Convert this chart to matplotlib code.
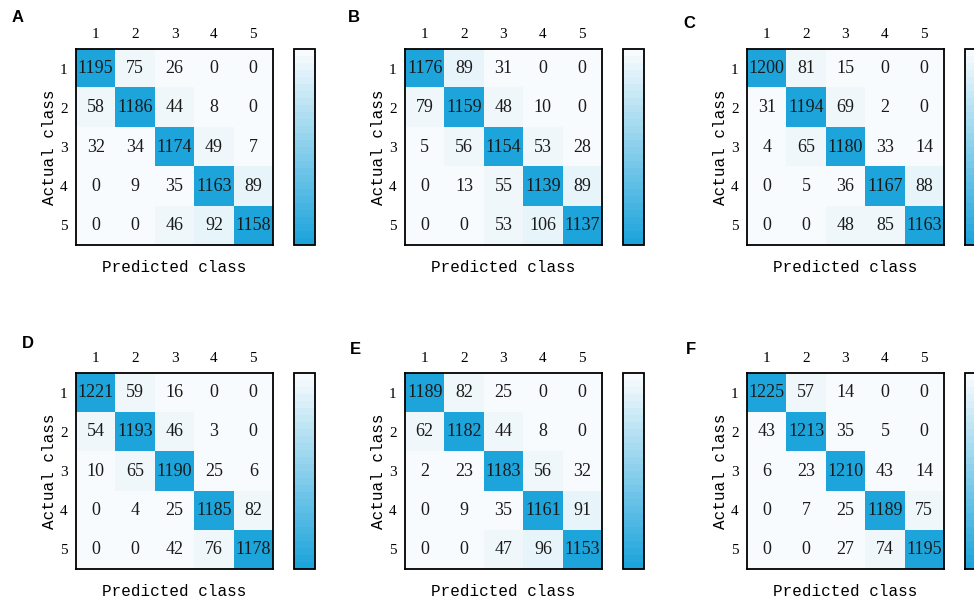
import numpy as np
import matplotlib
matplotlib.use("Agg")
import matplotlib.pyplot as plt
from matplotlib.colors import LinearSegmentedColormap

# confusion matrices (rows: actual, cols: predicted)
cm_a = [[1195, 75, 26, 0, 0],
        [58, 1186, 44, 8, 0],
        [32, 34, 1174, 49, 7],
        [0, 9, 35, 1163, 89],
        [0, 0, 46, 92, 1158]]
cm_b = [[1176, 89, 31, 0, 0],
        [79, 1159, 48, 10, 0],
        [5, 56, 1154, 53, 28],
        [0, 13, 55, 1139, 89],
        [0, 0, 53, 106, 1137]]
cm_c = [[1200, 81, 15, 0, 0],
        [31, 1194, 69, 2, 0],
        [4, 65, 1180, 33, 14],
        [0, 5, 36, 1167, 88],
        [0, 0, 48, 85, 1163]]
cm_d = [[1221, 59, 16, 0, 0],
        [54, 1193, 46, 3, 0],
        [10, 65, 1190, 25, 6],
        [0, 4, 25, 1185, 82],
        [0, 0, 42, 76, 1178]]
cm_e = [[1189, 82, 25, 0, 0],
        [62, 1182, 44, 8, 0],
        [2, 23, 1183, 56, 32],
        [0, 9, 35, 1161, 91],
        [0, 0, 47, 96, 1153]]
cm_f = [[1225, 57, 14, 0, 0],
        [43, 1213, 35, 5, 0],
        [6, 23, 1210, 43, 14],
        [0, 7, 25, 1189, 75],
        [0, 0, 27, 74, 1195]]

panel_labels = ["A", "B", "C", "D", "E", "F"]
class_labels = ["1", "2", "3", "4", "5"]

W, H = 974, 602
fig = plt.figure(figsize=(W / 100, H / 100), dpi=100)

cmap = LinearSegmentedColormap.from_list("wb", ["#f8fbfd", "#1da4db"], N=28)


def px(left, top, width, height):
    # pixel box -> figure fraction
    return [left / W, 1 - (top + height) / H, width / W, height / H]


lefts = [76, 405, 747]
tops = [49, 373]
label_pos = [(12, 18), (348, 18), (683, 24), (22, 343), (350, 350), (686, 350)]
mats = [cm_a, cm_b, cm_c, cm_d, cm_e, cm_f]

for i, cm in enumerate(mats):
    cm = np.array(cm)
    left = lefts[i % 3]
    top = tops[i // 3]
    ax = fig.add_axes(px(left, top, 197, 196))
    im = ax.imshow(cm, cmap=cmap, vmin=0, vmax=cm.max(), aspect="auto")
    for r in range(5):
        for c in range(5):
            ax.text(c, r, str(cm[r, c]), ha="center", va="center",
                    fontsize=13, family="Liberation Serif", color="#1a1a1a")
    ax.xaxis.tick_top()
    ax.set_xticks(range(5))
    ax.set_yticks(range(5))
    ax.set_xticklabels(class_labels, family="Liberation Serif", fontsize=11)
    ax.set_yticklabels(class_labels, family="Liberation Serif", fontsize=11)
    ax.tick_params(length=0, pad=6)
    ax.set_xlabel("Predicted class", family="Liberation Mono", fontsize=11.5, labelpad=11)
    ax.set_ylabel("Actual class", family="Liberation Mono", fontsize=11.5, labelpad=2)
    for s in ax.spines.values():
        s.set_linewidth(1.3)

    cax = fig.add_axes(px(left + 218, top, 21, 196))
    cb = fig.colorbar(im, cax=cax)
    cb.set_ticks([])
    cax.invert_yaxis()
    cb.outline.set_linewidth(1.3)

    lx, ly = label_pos[i]
    fig.text(lx / W, 1 - ly / H, panel_labels[i], fontsize=12, fontweight="bold",
             family="Liberation Sans", ha="left", va="center")

fig.savefig("out.png", dpi=100)
